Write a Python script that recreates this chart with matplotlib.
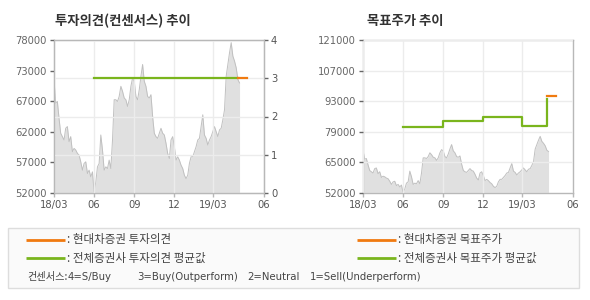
import matplotlib
matplotlib.use("Agg")
import matplotlib.pyplot as plt
import numpy as np
import pandas as pd

plt.rcParams['font.family'] = ['Noto Sans CJK KR', 'DejaVu Sans']

# ---------------- data ----------------
price_start = "2018-03-01"
price_end = "2019-04-30"
prices = [71270, 67280, 67560, 64720, 62150, 61580, 61010, 63000, 63290, 60720,
          61580, 59010, 59580, 59300, 58730, 58440, 57300, 55880, 57020, 57300,
          55310, 55880, 54740, 55590, 52170, 53880, 56450, 57020, 61860, 59300,
          55880, 56450, 56160, 57590, 56160, 61010, 67850, 67850, 67560, 68420,
          70130, 69280, 68140, 67850, 66710, 67850, 70130, 71560, 70990, 68420,
          67850, 69560, 71840, 73840, 70990, 70130, 68420, 68140, 68710, 65000,
          62150, 61580, 61290, 62150, 63000, 62150, 61860, 60440, 58730, 57870,
          61010, 61580, 59870, 57590, 58160, 57590, 56730, 56160, 55020, 54450,
          55020, 57020, 58160, 58160, 59010, 59870, 61010, 61290, 63290, 65290,
          61860, 61290, 60150, 61010, 61580, 62430, 63290, 62430, 61580, 62720,
          63000, 64430, 66140, 71840, 73840, 75830, 77550, 75260, 74410, 73270,
          71270, 70700]

# consensus opinion (all brokers average) and company opinion
avg_opinion_dates = ["2018-06-01", "2019-04-26"]
avg_opinion_vals = [3, 3]
co_opinion_dates = ["2019-04-26", "2019-05-17"]
co_opinion_vals = [3, 3]

# target price steps (all brokers average) and company target
avg_target_dates = ["2018-06-01", "2018-09-01", "2018-12-01", "2019-03-01", "2019-04-26", "2019-04-26"]
avg_target_vals = [81800, 84600, 86100, 82000, 94500, 94500]
co_target_dates = ["2019-04-26", "2019-05-17"]
co_target_vals = [95600, 95600]

x_tick_dates = ["2018-03-01", "2018-06-01", "2018-09-01", "2018-12-01", "2019-03-01", "2019-06-25"]
x_tick_labels = ["18/03", "06", "09", "12", "19/03", "06"]

left_y_labels = ["52000", "57000", "62000", "67000", "73000", "78000"]
left_y_range = (52000, 78000)
opinion_ticks = [0, 1, 2, 3, 4]
right_y_labels = ["52000", "65000", "79000", "93000", "107000", "121000"]
right_y_range = (52000, 121000)

title_left = "투자의견(컨센서스) 추이"
title_right = "목표주가 추이"
legend_items = [("현대차증권 투자의견", "orange"), ("전체증권사 투자의견 평균값", "green"),
                ("현대차증권 목표주가", "orange"), ("전체증권사 목표주가 평균값", "green")]
consensus_head = "컨센서스:"
consensus_parts = ["4=S/Buy", "3=Buy(Outperform)", "2=Neutral", "1=Sell(Underperform)"]

# ---------------- style ----------------
ORANGE = "#f07a10"
GREEN = "#7ab51d"
FILL = "#e0e0e0"
FILL_EDGE = "#c0c0c0"
GRID = "#ececec"
SPINE = "#b8b8b8"
TXT = "#555555"
NUMFONT = ['DejaVu Sans']

dates = pd.date_range(price_start, price_end, periods=len(prices))
xt = pd.to_datetime(x_tick_dates)

fig = plt.figure(figsize=(5.9, 3.0), dpi=100)
W, H = 590, 300

def box(x0, y0, x1, y1):
    return [x0 / W, 1 - y1 / H, (x1 - x0) / W, (y1 - y0) / H]

def style_ticklabels(ax):
    for lab in ax.get_xticklabels() + ax.get_yticklabels():
        lab.set_family(NUMFONT)

def style_axes(ax):
    for s in ax.spines.values():
        s.set_color(SPINE)
        s.set_linewidth(1.0)
    ax.set_xlim(xt[0], xt[-1])
    ax.set_xticks(xt)
    ax.set_xticklabels(x_tick_labels)
    ax.tick_params(axis='both', colors=SPINE, labelcolor=TXT, labelsize=7.2, length=3, width=1, pad=2)
    ax.grid(axis='x', color=GRID, linewidth=1.0)
    ax.set_axisbelow(False)
    style_ticklabels(ax)

# ---- left chart ----
axL = fig.add_axes(box(54, 40, 264, 193))
axL.fill_between(dates, left_y_range[0], prices, color=FILL, lw=0, zorder=1)
axL.plot(dates, prices, color=FILL_EDGE, lw=0.7, zorder=1.5)
axL.set_ylim(*left_y_range)
axL.set_yticks(np.linspace(left_y_range[0], left_y_range[1], len(left_y_labels)))
axL.set_yticklabels(left_y_labels)
style_axes(axL)
axL.tick_params(axis='y', colors="#666666")

axR = axL.twinx()
axR.set_ylim(0, 4)
axR.set_yticks(opinion_ticks)
axR.set_yticklabels([str(v) for v in opinion_ticks])
axR.grid(axis='y', color=GRID, linewidth=1.0)
axR.tick_params(axis='y', colors="#666666", labelcolor=TXT, labelsize=7.2, length=3, width=1, pad=2)
for s in axR.spines.values():
    s.set_color(SPINE)
axR.plot(pd.to_datetime(avg_opinion_dates), avg_opinion_vals, color=GREEN, lw=1.6, zorder=5)
axR.plot(pd.to_datetime(co_opinion_dates), co_opinion_vals, color=ORANGE, lw=1.6, zorder=5)
axR.set_xlim(xt[0], xt[-1])
style_ticklabels(axR)

fig.text(55 / W, 1 - 21 / H, title_left, fontsize=9.6, fontweight='bold', color="#333333", va='center', ha='left')

# ---- right chart ----
ax2 = fig.add_axes(box(363, 40, 573, 193))
ax2.fill_between(dates, right_y_range[0], prices, color=FILL, lw=0, zorder=1)
ax2.plot(dates, prices, color=FILL_EDGE, lw=0.7, zorder=1.5)
ax2.set_ylim(*right_y_range)
ax2.set_yticks(np.linspace(right_y_range[0], right_y_range[1], len(right_y_labels)))
ax2.set_yticklabels(right_y_labels)
style_axes(ax2)
ax2.tick_params(axis='y', colors="#666666")
ax2.grid(axis='y', color=GRID, linewidth=1.0)
ax2.step(pd.to_datetime(avg_target_dates), avg_target_vals, where='post', color=GREEN, lw=1.6, zorder=5)
ax2.plot(pd.to_datetime(co_target_dates), co_target_vals, color=ORANGE, lw=1.6, zorder=5)

fig.text(367 / W, 1 - 21 / H, title_right, fontsize=9.6, fontweight='bold', color="#333333", va='center', ha='left')

# ---- legend box ----
lg = fig.add_axes([0, 0, 1, 1], zorder=-1)
lg.set_xlim(0, W)
lg.set_ylim(H, 0)
lg.axis('off')
lg.add_patch(plt.Rectangle((8, 228), 571, 60, facecolor="#fafafa", edgecolor="#dddddd", lw=1))
col_x = [26, 26, 357, 357]
row_y = [240, 258, 240, 258]
for (label, c), x0, y0 in zip(legend_items, col_x, row_y):
    lg.plot([x0, x0 + 39], [y0, y0], color=ORANGE if c == "orange" else GREEN, lw=2.0, solid_capstyle='butt')
    lg.text(x0 + 41, y0, ": " + label, fontsize=8.3, color="#444444", va='center', ha='left')

note_x = [27, 68, 137, 247, 310]
lg.text(note_x[0], 277, consensus_head, fontsize=7.3, color="#444444", va='center', ha='left')
for part, x0 in zip(consensus_parts, note_x[1:]):
    lg.text(x0, 277, part, fontsize=7.3, color="#444444", va='center', ha='left', family=NUMFONT)

fig.savefig("out.png", dpi=100)
